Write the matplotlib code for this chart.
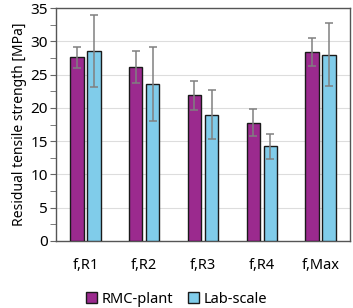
import numpy as np
import matplotlib.pyplot as plt
from matplotlib.ticker import MultipleLocator

categories = ['f,R1', 'f,R2', 'f,R3', 'f,R4', 'f,Max']
rmc_plant = [27.6, 26.2, 21.9, 17.8, 28.4]
rmc_err = [1.6, 2.4, 2.2, 2.0, 2.1]
lab_scale = [28.6, 23.6, 19.0, 14.2, 28.0]
lab_err = [5.4, 5.5, 3.7, 1.85, 4.7]

plt.rcParams['font.family'] = ['Noto Sans', 'DejaVu Sans']

fig = plt.figure(figsize=(3.53, 3.08), dpi=100)
ax = fig.add_axes([56 / 353, 1 - 241 / 308, 294 / 353, 233 / 308])

x = np.arange(len(categories))
w = 0.23
off = 0.145
err_kw = dict(ecolor='#808080', elinewidth=1.1, capsize=3, capthick=1.1)
ax.bar(x - off, rmc_plant, w, yerr=rmc_err, color='#9B2A8E', edgecolor='#1a1a1a',
       linewidth=1.0, label='RMC-plant', error_kw=err_kw, zorder=3)
ax.bar(x + off, lab_scale, w, yerr=lab_err, color='#80CCEA', edgecolor='#1a1a1a',
       linewidth=1.0, label='Lab-scale', error_kw=err_kw, zorder=3)

ax.set_xlim(-0.5, 4.5)
ax.set_ylim(0, 35)
ax.set_xticks(x)
ax.set_xticklabels(categories, fontsize=10.5)
ax.tick_params(axis='x', length=0, pad=12)
ax.yaxis.set_major_locator(MultipleLocator(5))
ax.yaxis.set_minor_locator(MultipleLocator(2.5))
ax.tick_params(axis='y', which='both', length=4, color='#666666', labelsize=11, pad=2)
ax.grid(axis='y', color='#dddddd', linewidth=0.8, zorder=0)
for s in ax.spines.values():
    s.set_color('#555555')
    s.set_linewidth(1.0)

ax.set_ylabel('Residual tensile strength [MPa]', fontsize=10, labelpad=2)

ax.legend(loc='center', bbox_to_anchor=(0.41, -0.25), ncol=2, frameon=False,
          fontsize=10.5, handlelength=0.8, handleheight=0.8, handletextpad=0.3,
          columnspacing=1.0)

fig.savefig('out.png', dpi=100)
